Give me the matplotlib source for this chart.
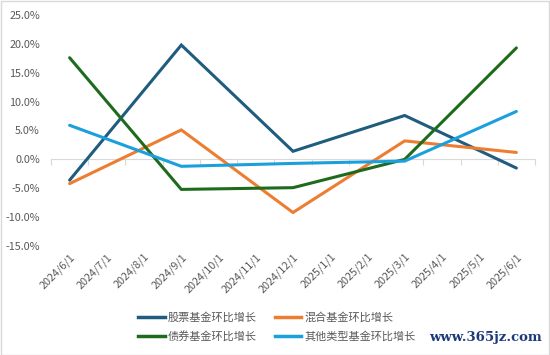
import numpy as np
import matplotlib.pyplot as plt
from matplotlib.lines import Line2D

plt.rcParams['font.family'] = ['Noto Sans CJK SC', 'DejaVu Sans']

# === DATA ===
months = ["2024/6/1", "2024/7/1", "2024/8/1", "2024/9/1", "2024/10/1", "2024/11/1",
          "2024/12/1", "2025/1/1", "2025/2/1", "2025/3/1", "2025/4/1", "2025/5/1", "2025/6/1"]
obs_months = ["2024/6/1", "2024/9/1", "2024/12/1", "2025/3/1", "2025/6/1"]
stock = [-3.6, 19.8, 1.4, 7.6, -1.5]
mixed = [-4.2, 5.1, -9.2, 3.2, 1.2]
bond = [17.6, -5.2, -4.9, 0.0, 19.3]
other = [5.9, -1.2, -0.7, -0.3, 8.3]

names = ["股票基金环比增长", "混合基金环比增长", "债券基金环比增长", "其他类型基金环比增长"]
colors = ["#1F5C7E", "#ED7D31", "#1E6B1E", "#1AA0DC"]
series = [stock, mixed, bond, other]

fig = plt.figure(figsize=(5.5, 3.55), dpi=100)
ax = fig.add_axes([51 / 550, 1 - 246 / 355, 484 / 550, 231 / 355])

xpos = [months.index(m) for m in obs_months]
for vals, c in zip(series, colors):
    ax.plot(xpos, vals, color=c, lw=2.2, solid_capstyle="round", solid_joinstyle="miter")

ax.set_xlim(-0.5, len(months) - 0.5)
ax.set_ylim(-15, 25)
ax.set_yticks(np.arange(-15, 26, 5))
ax.set_yticklabels([f"{v:.1f}%" for v in np.arange(-15, 26, 5)])
ax.set_xticks(range(len(months)))
ax.set_xticklabels(months, rotation=45, ha="right", rotation_mode="anchor")
ax.tick_params(axis="both", length=0, labelsize=7.8, labelcolor="#595959")
ax.tick_params(axis="y", pad=8)
ax.tick_params(axis="x", pad=4)
for s in ax.spines.values():
    s.set_visible(False)

# zero axis line with category boundary ticks
sec = ax.secondary_xaxis(15 / 40)
sec.set_xticks(np.arange(-0.5, len(months), 1.0))
sec.set_xticklabels([])
sec.xaxis.set_ticks_position("bottom")
sec.tick_params(length=4, color="#D9D9D9", direction="out")
sec.spines["bottom"].set_color("#D9D9D9")
sec.spines["top"].set_visible(False)

# legend fills column-wise: reorder so rows read stock/mixed, bond/other
order = [0, 2, 1, 3]
handles = [Line2D([0], [0], color=colors[i], lw=2.5) for i in order]
labels = [names[i] for i in order]
fig.legend(handles, labels, ncol=2, loc="center", bbox_to_anchor=(277 / 550, 1 - 327 / 355),
           frameon=False, fontsize=8, labelcolor="#595959", handlelength=2.4,
           handletextpad=0.3, columnspacing=1.6, labelspacing=0.75)

fig.text(542 / 550, 1 - 338 / 355, "www.365jz.com", ha="right", va="center",
         family="DejaVu Serif", fontsize=9.5, fontweight="bold", color="#1B3A7A")

fig.patches.append(plt.Rectangle((0.001, 0.001), 0.997, 0.996, transform=fig.transFigure,
                                 fill=False, edgecolor="#D9D9D9", lw=1))

fig.savefig("out.png", dpi=100)
